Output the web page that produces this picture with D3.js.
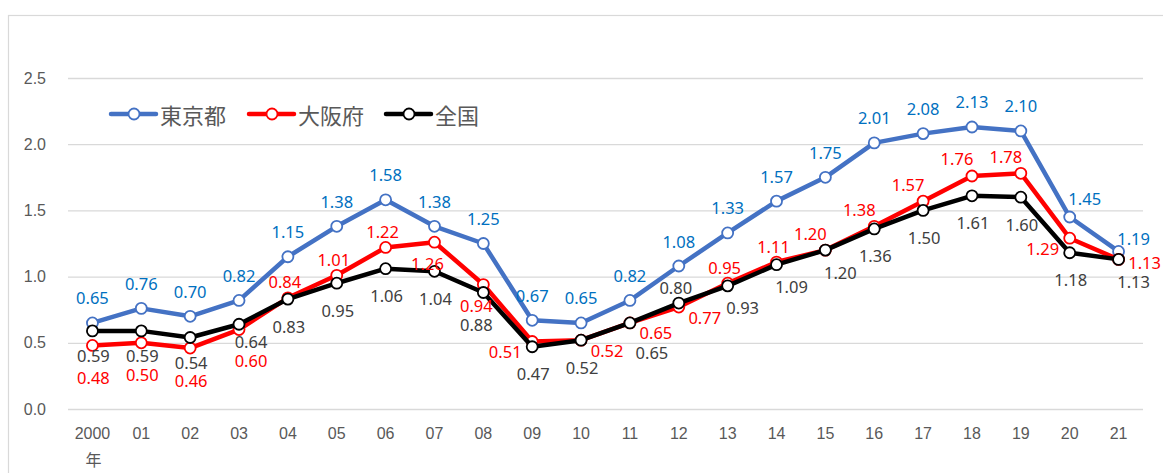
<!DOCTYPE html>
<html>
<head>
<meta charset="utf-8">
<script src="https://cdn.jsdelivr.net/npm/d3@7"></script>
<style>
  html, body { margin: 0; padding: 0; background: #fff; }
  svg { display: block; font-family: "Noto Sans", "Noto Sans CJK JP", sans-serif; }
</style>
</head>
<body>
<div id="chart"></div>
<script>
// --- data ---
const years = ['2000', '01', '02', '03', '04', '05', '06', '07', '08', '09', '10',
               '11', '12', '13', '14', '15', '16', '17', '18', '19', '20', '21'];
const tokyo = [0.65, 0.76, 0.70, 0.82, 1.15, 1.38, 1.58, 1.38, 1.25, 0.67, 0.65,
               0.82, 1.08, 1.33, 1.57, 1.75, 2.01, 2.08, 2.13, 2.10, 1.45, 1.19];
const osaka = [0.48, 0.50, 0.46, 0.60, 0.84, 1.01, 1.22, 1.26, 0.94, 0.51, 0.52,
               0.65, 0.77, 0.95, 1.11, 1.20, 1.38, 1.57, 1.76, 1.78, 1.29, 1.13];
const zenkoku = [0.59, 0.59, 0.54, 0.64, 0.83, 0.95, 1.06, 1.04, 0.88, 0.47, 0.52,
                 0.65, 0.80, 0.93, 1.09, 1.20, 1.36, 1.50, 1.61, 1.60, 1.18, 1.13];
const yTicks = [0, 0.5, 1.0, 1.5, 2.0, 2.5];

// where each value label sits relative to its point
const tokyoLabelPos = ['T','T','T','T','T','T','T','T','T','T','T',
                       'T','T','T','T','T','T','T','T','T','TR','TR2'];
const osakaLabelPos = ['Bf','Bf','Bf','BRf','t','t','t','BL','BL','L','R',
                       'R','R','t','t','TL','TL','TL','TL','TL','L','R2'];
const zenkokuLabelPos = ['Bn','Bn','Bn','BRn','B','B','B','B','BLf','B','B',
                         'BRx','t','BR','BR','BR','B','B','B','B','B','BR'];

const offsets = {
  T: [0, -25], t: [-3, -16], B: [1, 27], Bn: [1, 25], Bf: [1, 32],
  L: [-27, 10], R: [26, 10], R2: [26, 3],
  TL: [-15, -17], TR: [15, -19], TR2: [15, -13],
  BL: [-7, 21], BLf: [-7, 32],
  BR: [15, 22], BRn: [12, 17], BRf: [12, 31], BRx: [22, 30]
};

const series = [
  { name: '東京都', values: tokyo, color: '#4472C4', labelColor: '#0070C0', pos: tokyoLabelPos },
  { name: '大阪府', values: osaka, color: '#FF0000', labelColor: '#FF0000', pos: osakaLabelPos },
  { name: '全国', values: zenkoku, color: '#000000', labelColor: '#404040', pos: zenkokuLabelPos }
];

// --- setup ---
const width = 1163, height = 473;
const plot = { left: 68, right: 1143, top: 78, bottom: 409 };

const svg = d3.select('#chart').append('svg')
  .attr('width', width)
  .attr('height', height);

// chart frame
svg.append('rect')
  .attr('x', 8.5).attr('y', 15.5)
  .attr('width', width + 20).attr('height', height + 20)
  .attr('fill', '#fff')
  .attr('stroke', '#d9d9d9')
  .attr('stroke-width', 1.2);

const x = d3.scaleBand().domain(years).range([plot.left, plot.right]);
const cx = d => x(d) + x.bandwidth() / 2;
const y = d3.scaleLinear().domain([0, 2.5]).range([plot.bottom, plot.top]);

// gridlines + y labels
const yAxis = d3.axisLeft(y)
  .tickValues(yTicks)
  .tickFormat(d3.format('.1f'))
  .tickSize(-(plot.right - plot.left))
  .tickPadding(22);

const gy = svg.append('g')
  .attr('transform', `translate(${plot.left},0)`)
  .call(yAxis);
gy.select('.domain').remove();
gy.selectAll('.tick line').attr('stroke', '#d9d9d9').attr('stroke-width', 1.3);
gy.selectAll('.tick text')
  .attr('fill', '#595959')
  .style('font-size', '16px');

// x labels
const xAxis = d3.axisBottom(x).tickSize(0).tickPadding(19);
const gx = svg.append('g')
  .attr('transform', `translate(0,${plot.bottom})`)
  .call(xAxis);
gx.select('.domain').remove();
gx.selectAll('.tick text')
  .attr('fill', '#595959')
  .style('font-size', '16px');

svg.append('text')
  .attr('x', cx(years[0]) + 1)
  .attr('y', 466)
  .attr('text-anchor', 'middle')
  .attr('fill', '#595959')
  .style('font-size', '16px')
  .style('font-family', '"Noto Sans CJK JP", sans-serif')
  .text('年');

// lines
const line = d3.line()
  .x((d, i) => cx(years[i]))
  .y(d => y(d));

series.forEach(s => {
  const g = svg.append('g');
  g.append('path')
    .datum(s.values)
    .attr('fill', 'none')
    .attr('stroke', s.color)
    .attr('stroke-width', 4.5)
    .attr('stroke-linejoin', 'round')
    .attr('d', line);

  g.selectAll('circle')
    .data(s.values)
    .join('circle')
    .attr('cx', (d, i) => cx(years[i]))
    .attr('cy', d => y(d))
    .attr('r', 5.5)
    .attr('fill', '#fff')
    .attr('stroke', s.color)
    .attr('stroke-width', 1.8);
});

// value labels on top
series.forEach(s => {
  svg.append('g').selectAll('text')
    .data(s.values)
    .join('text')
    .attr('x', (d, i) => cx(years[i]) + offsets[s.pos[i]][0])
    .attr('y', (d, i) => y(d) + offsets[s.pos[i]][1])
    .attr('text-anchor', 'middle')
    .attr('dominant-baseline', 'central')
    .attr('fill', s.labelColor)
    .style('font-size', '16.5px')
    .text(d => d3.format('.2f')(d));
});

// legend
const legendX = [111, 249, 386];
const legend = svg.append('g').attr('transform', 'translate(0,114)');
series.forEach((s, i) => {
  const lg = legend.append('g').attr('transform', `translate(${legendX[i]},0)`);
  lg.append('line')
    .attr('x1', 0).attr('x2', 45)
    .attr('stroke', s.color)
    .attr('stroke-width', 4.5)
    .attr('stroke-linecap', 'round');
  lg.append('circle')
    .attr('cx', 23).attr('r', 5.5)
    .attr('fill', '#fff')
    .attr('stroke', s.color)
    .attr('stroke-width', 1.8);
  lg.append('text')
    .attr('x', 49)
    .attr('dominant-baseline', 'central')
    .attr('fill', '#595959')
    .style('font-size', '22px')
    .style('font-family', '"Noto Sans CJK JP", sans-serif')
    .text(s.name);
});
</script>
</body>
</html>
